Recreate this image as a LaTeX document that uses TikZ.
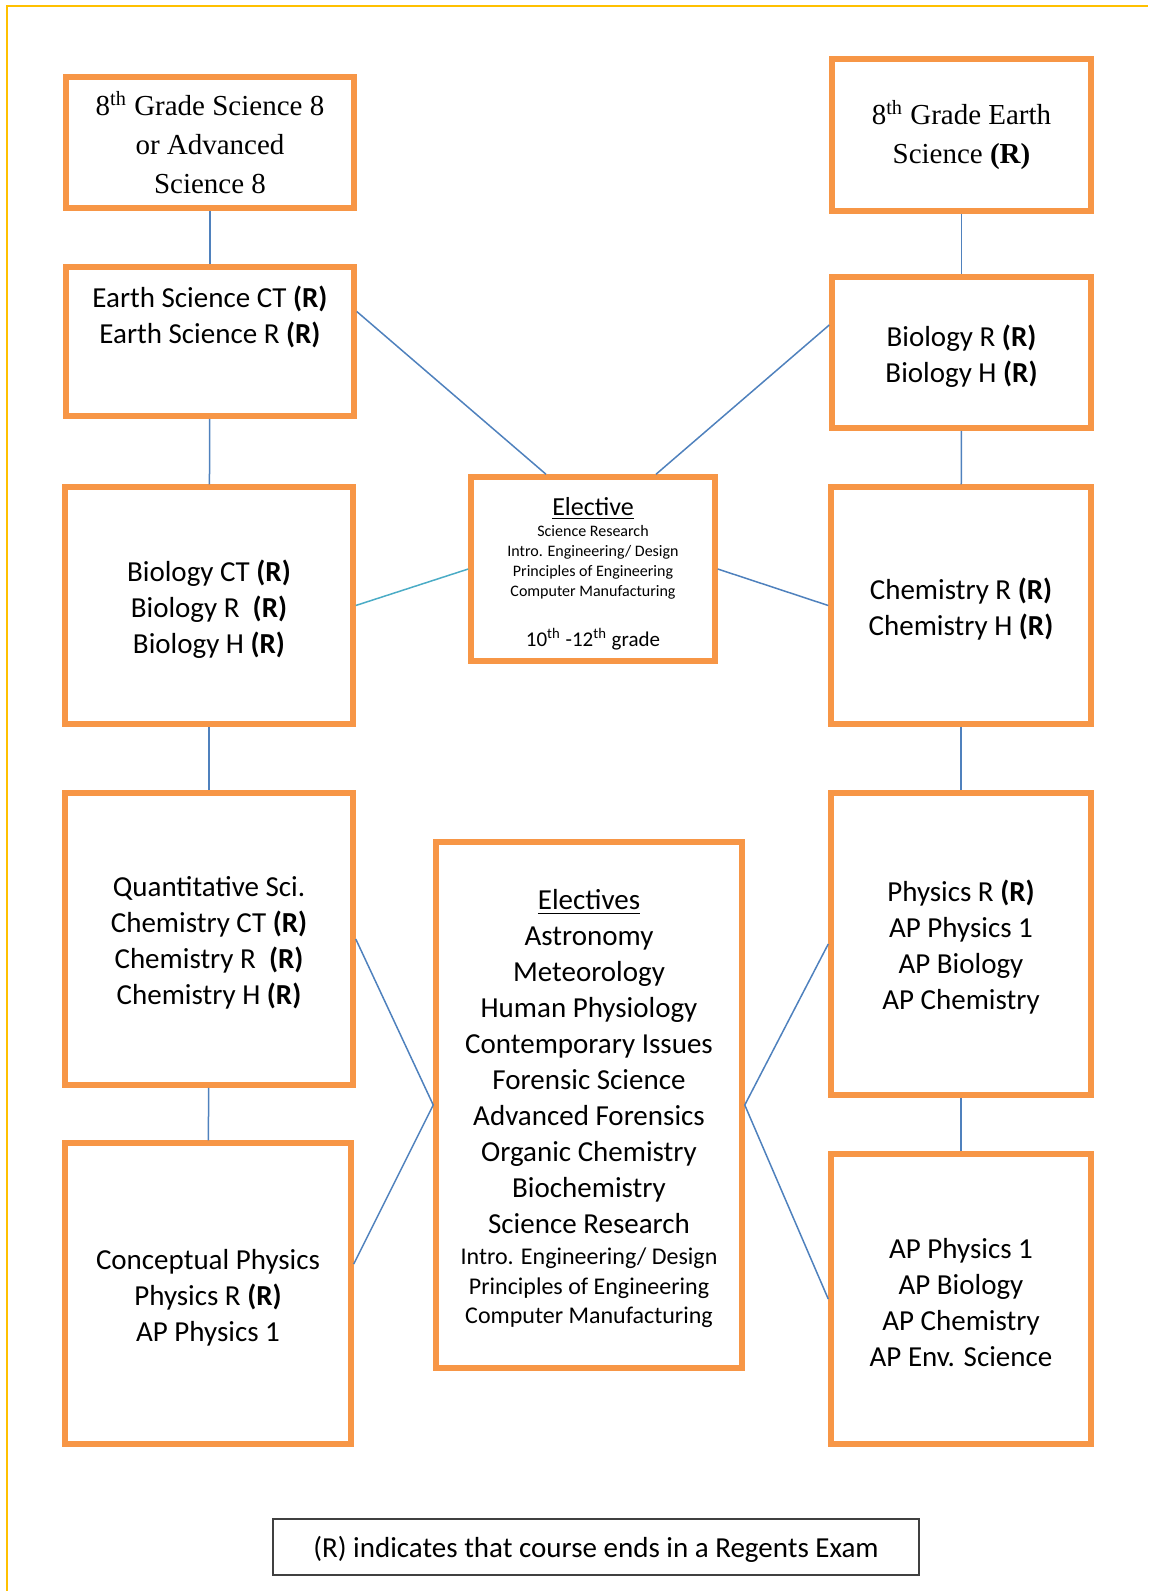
\documentclass[tikz,border=0pt]{standalone}
\usepackage{fontspec}
\setmainfont{Carlito}
\newfontfamily\timesfont{Liberation Serif}
\definecolor{boxorange}{HTML}{F79646}
\definecolor{linkblue}{HTML}{4F81BD}
\definecolor{linkcyan}{HTML}{4BACC6}
\definecolor{pagegold}{HTML}{FFC000}

\begin{document}
\begin{tikzpicture}[x=0.5pt,y=-0.5pt,
		box/.style={draw=boxorange,line width=2.75pt,fill=none,inner sep=0pt,align=center,font=\fontsize{14.5pt}{18pt}\selectfont},
		serif box/.style={box,font=\timesfont\fontsize{14.5pt}{19.5pt}\selectfont},
		link/.style={draw=linkblue,line width=0.75pt},
		note/.style={draw=black!75,line width=1pt,inner sep=0pt,font=\fontsize{14.5pt}{18pt}\selectfont,execute at begin node={\rule{0pt}{13pt}}}]
		\def \smtext {\fontsize{12pt}{14.75pt}\selectfont}
		\def \topstrut {\rule{0pt}{14pt}}
		\useasboundingbox (0,0) rectangle (1148,1591);
		\draw[pagegold,line width=1pt] (7,1591) -- (7,6) -- (1148,6);
		
		\node[serif box,minimum width=144pt,minimum height=65.5pt] (1) at (210,142.5) {8\textsuperscript{th} Grade Science 8\\or Advanced\\Science 8};
		\node[box,minimum width=144pt,minimum height=74.5pt] (2) at (210,341.5) {\topstrut Earth Science CT \textbf{(R)}\\Earth Science R \textbf{(R)}\\[12pt] \mbox{}};
		\node[box,minimum width=144pt,minimum height=118.5pt] (3) at (209,605.5) {\topstrut Biology CT \textbf{(R)}\\Biology R~ \textbf{(R)}\\Biology H \textbf{(R)}};
		\node[box,minimum width=144pt,minimum height=146pt] (4) at (209,939) {\topstrut Quantitative Sci.\\Chemistry CT \textbf{(R)}\\Chemistry R~ \textbf{(R)}\\Chemistry H \textbf{(R)}};
		\node[box,minimum width=143pt,minimum height=150.5pt] (5) at (208,1293.5) {\topstrut Conceptual Physics\\Physics R \textbf{(R)}\\AP Physics 1};
		
		\node[serif box,minimum width=129.5pt,minimum height=76pt] (6) at (961.5,135) {8\textsuperscript{th} Grade Earth\\Science \textbf{(R)}};
		\node[box,minimum width=129.5pt,minimum height=75.5pt] (7) at (961.5,352.5) {\topstrut Biology R \textbf{(R)}\\Biology H \textbf{(R)}};
		\node[box,minimum width=130pt,minimum height=118.5pt] (8) at (961,605.5) {\topstrut Chemistry R \textbf{(R)}\\Chemistry H \textbf{(R)}};
		\node[box,minimum width=130pt,minimum height=151pt] (9) at (961,944) {\topstrut Physics R \textbf{(R)}\\AP Physics 1\\AP Biology\\AP Chemistry};
		\node[box,minimum width=130pt,minimum height=145pt] (10) at (961,1299) {\topstrut AP Physics 1\\AP Biology\\AP Chemistry\\AP Env. Science};
		
		\node[box,minimum width=122pt,minimum height=92pt,font=\fontsize{8pt}{10pt}\selectfont] (11) at (593,569) {{\fontsize{13pt}{13pt}\selectfont\rule{0pt}{13.5pt}\underline{Elective}}\\[0.5pt]Science Research\\Intro. Engineering/ Design\\Principles of Engineering\\Computer Manufacturing\\[13.75pt]{\fontsize{10.5pt}{12pt}\selectfont 10\textsuperscript{th} -12\textsuperscript{th} grade}};
		\node[box,minimum width=153pt,minimum height=263pt] (12) at (589,1105) {\topstrut\underline{Electives}\\Astronomy\\Meteorology\\Human Physiology\\Contemporary Issues\\Forensic Science\\Advanced Forensics\\Organic Chemistry\\Biochemistry\\Science Research\\[-2.5pt]{\smtext Intro. Engineering/ Design}\\[-3.25pt]{\smtext Principles of Engineering}\\[-3.25pt]{\smtext Computer Manufacturing}};
		
		\node[note,minimum width=323pt,minimum height=28pt] (13) at (596,1547) {(R) indicates that course ends in a Regents Exam};
		
		\draw[link] (1) to (2);
		\draw[link] (2) to (3);
		\draw[link] (3) to (4);
		\draw[link] (4) to (5);
		\draw[link] (6) to (7);
		\draw[link] (7) to (8);
		\draw[link] (8) to (9);
		\draw[link] (9) to (10);
		
		\draw[link] ([yshift=15pt]2.east) to ([xshift=-23.5pt]11.north);
		\draw[link] ([yshift=13.75pt]7.west) to ([xshift=31.5pt]11.north);
		\draw[link,draw=linkcyan] (3.east) to (11.west);
		\draw[link] (11.east) to (8.west);
		
		\draw[link] (4.east) to (12.west);
		\draw[link] ([yshift=14.75pt]5.east) to (12.west);
		\draw[link] (12.east) to (9.west);
		\draw[link] (12.east) to (10.west);
	\end{tikzpicture}
\end{document}
